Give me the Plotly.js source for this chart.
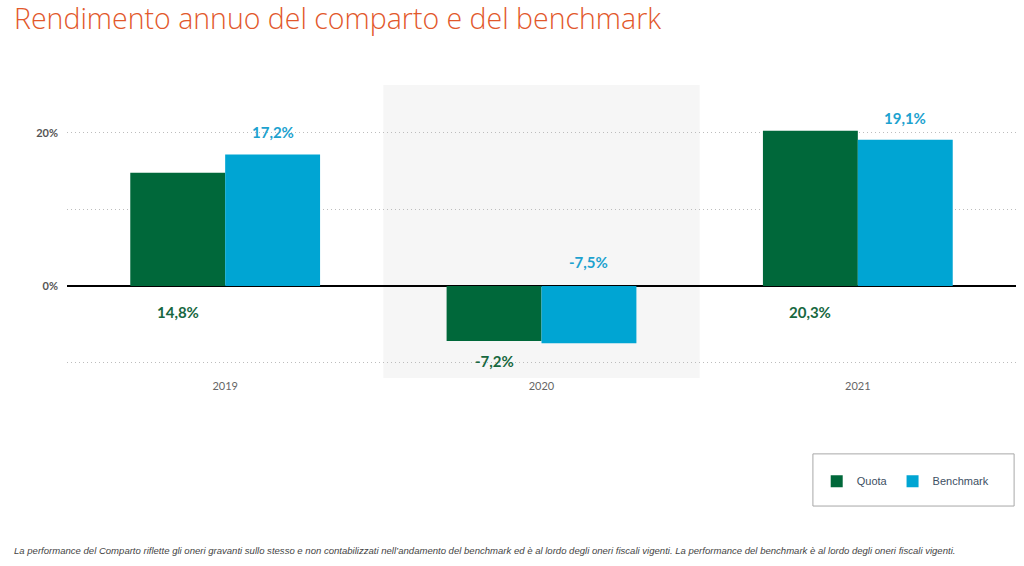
<!DOCTYPE html>
<html>
<head>
<meta charset="utf-8">
<script src="https://cdn.plot.ly/plotly-3.0.1.min.js"></script>
<style>
  html, body { margin: 0; padding: 0; background: #fff; }
  #chart { width: 1024px; height: 566px; }
</style>
</head>
<body>
<div id="chart"></div>
<script>
const years = ['2019', '2020', '2021'];
const quota = [14.8, -7.2, 20.3];
const benchmark = [17.2, -7.5, 19.1];
const seriesNames = ['Quota', 'Benchmark'];
const yTickVals = [-10, 0, 10, 20];
const yTickText = ['', '0%', '', '20%'];
const titleText = 'Rendimento annuo del comparto e del benchmark';
const footnote = 'La performance del Comparto riflette gli oneri gravanti sullo stesso e non contabilizzati nell\u2019andamento del benchmark ed è al lordo degli oneri fiscali vigenti. La performance del benchmark è al lordo degli oneri fiscali vigenti.';

const green = '#00683a';
const blue = '#00a5d3';
const fmt = v => v.toFixed(1).replace('.', ',') + '%';

const traces = [
  { type: 'bar', name: seriesNames[0], x: years, y: quota, marker: { color: green }, hoverinfo: 'skip' },
  { type: 'bar', name: seriesNames[1], x: years, y: benchmark, marker: { color: blue }, hoverinfo: 'skip' }
];

const annotations = [];
quota.forEach((v, i) => {
  annotations.push({
    xref: 'x', yref: 'y', x: i - 0.15, y: v > 0 ? 0 : v,
    yshift: v > 0 ? -26 : -20, yanchor: 'middle', showarrow: false,
    text: fmt(v), font: { family: 'Lato, sans-serif', size: 15, color: '#17683f', weight: 'bold' }
  });
});
benchmark.forEach((v, i) => {
  annotations.push({
    xref: 'x', yref: 'y', x: i + 0.15, y: v > 0 ? v : 0,
    yshift: v > 0 ? 22 : 24, yanchor: 'middle', showarrow: false,
    text: fmt(v), font: { family: 'Lato, sans-serif', size: 15, color: '#1da2cf', weight: 'bold' }
  });
});
annotations.push({
  xref: 'paper', yref: 'paper', x: -0.058, y: -0.59, xanchor: 'left', yanchor: 'middle',
  showarrow: false, text: '<i>' + footnote + '</i>',
  font: { family: '"Liberation Sans", Arial, sans-serif', size: 9.55, color: '#444' }
});

const layout = {
  width: 1024, height: 566,
  margin: { l: 66.5, r: 7.5, t: 85, b: 188, pad: 0 },
  paper_bgcolor: '#fff', plot_bgcolor: 'rgba(0,0,0,0)',
  title: { text: titleText, x: 0.0137, xanchor: 'left', y: 0.967, yanchor: 'middle',
           font: { family: '"Open Sans", sans-serif', size: 28.5, color: '#e2582b', weight: 300 } },
  barmode: 'group', bargap: 0.4, bargroupgap: 0,
  xaxis: { type: 'category', range: [-0.5, 2.5], showgrid: false, zeroline: false, showline: false,
           tickfont: { family: 'Lato, sans-serif', size: 11, color: '#666' }, ticks: '', fixedrange: true },
  yaxis: { range: [-12.03, 26.27], tickvals: yTickVals, ticktext: yTickText,
           showgrid: true, gridcolor: '#bdbdbd', griddash: '1px,3px', gridwidth: 1,
           zeroline: true, zerolinecolor: '#000', zerolinewidth: 2,
           tickfont: { family: 'Lato, sans-serif', size: 11, color: '#555', weight: 'bold' },
           ticklabelstandoff: 8, fixedrange: true },
  shapes: [
    { type: 'rect', xref: 'x', yref: 'paper', x0: 0.5, x1: 1.5, y0: 0, y1: 1,
      fillcolor: '#f6f6f6', line: { width: 0 }, layer: 'below' },
    { type: 'rect', xref: 'paper', yref: 'paper', x0: 0.786, x1: 0.998, y0: -0.259, y1: -0.437,
      fillcolor: 'rgba(0,0,0,0)', line: { color: '#a8a8a8', width: 1 } }
  ],
  showlegend: true,
  legend: { orientation: 'h', x: 0.790, xanchor: 'left', y: -0.352, yanchor: 'middle',
            font: { family: 'Liberation Sans, Arial, sans-serif', size: 11, color: '#3d4f63' },
            bgcolor: 'rgba(0,0,0,0)', borderwidth: 0, itemwidth: 30, traceorder: 'normal' },
  annotations: annotations
};

Plotly.newPlot('chart', traces, layout, { displayModeBar: false, staticPlot: true });
</script>
</body>
</html>
